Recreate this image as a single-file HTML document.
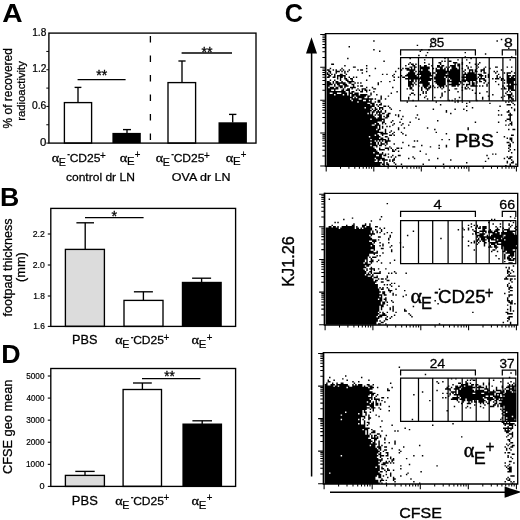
<!DOCTYPE html>
<html lang="en"><head><meta charset="utf-8"><title>Figure</title>
<style>html,body{margin:0;padding:0;background:#fff;}svg{display:block;}text{font-family:"Liberation Sans", Arial, Helvetica, sans-serif;fill:#000;stroke:#000;}</style></head><body>
<svg width="520" height="520" viewBox="0 0 520 520">
<rect x="0" y="0" width="520" height="520" fill="#fff"/>
<g id="panelA">
<text transform="translate(2.29,21.8) scale(1.077,1)" font-size="26.2" stroke-width="0" font-weight="bold">A</text>
<rect x="64.4" y="102.6" width="27.2" height="40.5" fill="#fff" stroke="#000" stroke-width="1.35"/>
<rect x="112.4" y="132.9" width="28.4" height="10.2" fill="#000" stroke="#000" stroke-width="0"/>
<rect x="168" y="82.6" width="27.6" height="60.5" fill="#fff" stroke="#000" stroke-width="1.35"/>
<rect x="218.5" y="122.3" width="28.4" height="20.8" fill="#000" stroke="#000" stroke-width="0"/>
<line x1="78" y1="87.4" x2="78" y2="102.6" stroke="#000" stroke-width="1.35" />
<line x1="74.6" y1="87.4" x2="81.4" y2="87.4" stroke="#000" stroke-width="1.35" />
<line x1="127" y1="129.6" x2="127" y2="133" stroke="#000" stroke-width="1.35" />
<line x1="123" y1="129.6" x2="131" y2="129.6" stroke="#000" stroke-width="1.35" />
<line x1="182" y1="61" x2="182" y2="82.6" stroke="#000" stroke-width="1.35" />
<line x1="178.4" y1="61" x2="185.6" y2="61" stroke="#000" stroke-width="1.35" />
<line x1="232.7" y1="114.4" x2="232.7" y2="122.6" stroke="#000" stroke-width="1.35" />
<line x1="229.0" y1="114.4" x2="236.39999999999998" y2="114.4" stroke="#000" stroke-width="1.35" />
<line x1="77.6" y1="79.6" x2="125.6" y2="79.6" stroke="#000" stroke-width="1.35" />
<line x1="181.6" y1="53" x2="232" y2="53" stroke="#000" stroke-width="1.35" />
<text transform="translate(96.19,80.41) scale(1.010,1)" font-size="14" stroke-width="0.31">**</text>
<text transform="translate(201.39,57.11) scale(1.010,1)" font-size="14" stroke-width="0.31">**</text>
<line x1="150.4" y1="36" x2="150.4" y2="143" stroke="#000" stroke-width="1.3" stroke-dasharray="6.6 12.9"/>
<rect x="48.9" y="33.1" width="207.1" height="110.0" fill="none" stroke="#000" stroke-width="1.35"/>
<line x1="46.3" y1="51.43" x2="48.9" y2="51.43" stroke="#000" stroke-width="1.0" />
<line x1="46.3" y1="69.77" x2="48.9" y2="69.77" stroke="#000" stroke-width="1.0" />
<line x1="46.3" y1="88.1" x2="48.9" y2="88.1" stroke="#000" stroke-width="1.0" />
<line x1="46.3" y1="106.43" x2="48.9" y2="106.43" stroke="#000" stroke-width="1.0" />
<line x1="46.3" y1="124.77" x2="48.9" y2="124.77" stroke="#000" stroke-width="1.0" />
<line x1="46.3" y1="143.1" x2="48.9" y2="143.1" stroke="#000" stroke-width="1.0" />
<text transform="translate(32.24,35.8) scale(0.982,1)" font-size="10.3" stroke-width="0.23">1.8</text>
<text transform="translate(32.24,72.47) scale(0.990,1)" font-size="10.3" stroke-width="0.23">1.2</text>
<text transform="translate(31.99,109.13) scale(1.001,1)" font-size="10.3" stroke-width="0.23">0.6</text>
<text transform="translate(39.94,145.8) scale(1.112,1)" font-size="10.3" stroke-width="0.23">0</text>
<text transform="translate(11.7,128.42) rotate(-90) scale(0.996,1.1)" font-size="12" stroke-width="0.26">% of recovered</text>
<text transform="translate(25,120.74) rotate(-90) scale(1.001,1.04)" font-size="11.3" stroke-width="0.25">radioactivity</text>
<text transform="translate(51.83,162) scale(1.087,1)" font-size="13" stroke-width="0.29" style="font-family:'Liberation Serif',serif">α</text>
<text transform="translate(58.65,165.9) scale(1.054,1)" font-size="10.1" stroke-width="0.22">E</text>
<text transform="translate(67.23,158.48) scale(0.680,1)" font-size="12" stroke-width="0.26">-</text>
<text transform="translate(69.65,162) scale(1.040,1)" font-size="11.6" stroke-width="0.26">CD25</text>
<text transform="translate(100.01,158.62) scale(0.970,1)" font-size="10.2" stroke-width="0.22">+</text>
<text transform="translate(119.63,161.5) scale(1.104,1)" font-size="13" stroke-width="0.29" style="font-family:'Liberation Serif',serif">α</text>
<text transform="translate(126.89,165.4) scale(1.126,1)" font-size="10.1" stroke-width="0.22">E</text>
<text transform="translate(134.82,158.32) scale(0.950,1)" font-size="10.2" stroke-width="0.22">+</text>
<text transform="translate(155.83,162) scale(1.087,1)" font-size="13" stroke-width="0.29" style="font-family:'Liberation Serif',serif">α</text>
<text transform="translate(162.65,165.9) scale(1.054,1)" font-size="10.1" stroke-width="0.22">E</text>
<text transform="translate(171.23,158.48) scale(0.680,1)" font-size="12" stroke-width="0.26">-</text>
<text transform="translate(173.65,162) scale(1.040,1)" font-size="11.6" stroke-width="0.26">CD25</text>
<text transform="translate(204.01,158.62) scale(0.970,1)" font-size="10.2" stroke-width="0.22">+</text>
<text transform="translate(225.63,161.5) scale(1.104,1)" font-size="13" stroke-width="0.29" style="font-family:'Liberation Serif',serif">α</text>
<text transform="translate(232.89,165.4) scale(1.126,1)" font-size="10.1" stroke-width="0.22">E</text>
<text transform="translate(240.82,158.32) scale(0.950,1)" font-size="10.2" stroke-width="0.22">+</text>
<text transform="translate(65.92,181) scale(1.058,1)" font-size="11.4" stroke-width="0.25">control dr LN</text>
<text transform="translate(171.84,181) scale(1.096,1)" font-size="11.4" stroke-width="0.25">OVA dr LN</text>
</g>
<g id="panelB">
<text transform="translate(0.06,206.2) scale(1.020,1)" font-size="26.2" stroke-width="0" font-weight="bold">B</text>
<rect x="65.4" y="249.4" width="39.0" height="77.0" fill="#dcdcdc" stroke="#000" stroke-width="1.35"/>
<rect x="124" y="300.4" width="39" height="26.0" fill="#fff" stroke="#000" stroke-width="1.35"/>
<rect x="181.8" y="281.8" width="40.0" height="44.6" fill="#000" stroke="#000" stroke-width="0"/>
<line x1="85.2" y1="222.8" x2="85.2" y2="249.4" stroke="#000" stroke-width="1.35" />
<line x1="76.4" y1="222.8" x2="94.0" y2="222.8" stroke="#000" stroke-width="1.35" />
<line x1="143.4" y1="291.8" x2="143.4" y2="300.4" stroke="#000" stroke-width="1.35" />
<line x1="133.9" y1="291.8" x2="152.9" y2="291.8" stroke="#000" stroke-width="1.35" />
<line x1="201.6" y1="278.2" x2="201.6" y2="282" stroke="#000" stroke-width="1.35" />
<line x1="192.1" y1="278.2" x2="211.1" y2="278.2" stroke="#000" stroke-width="1.35" />
<line x1="85" y1="217.6" x2="143.6" y2="217.6" stroke="#000" stroke-width="1.35" />
<text transform="translate(111.58,220.91) scale(1.032,1)" font-size="14" stroke-width="0.31">*</text>
<rect x="50.8" y="208.4" width="184.8" height="117.99999999999997" fill="none" stroke="#000" stroke-width="1.35"/>
<line x1="47.8" y1="234" x2="50.8" y2="234" stroke="#000" stroke-width="1.1" />
<text transform="translate(32.76,237) scale(0.995,1)" font-size="8.8" stroke-width="0.19">2.2</text>
<line x1="47.8" y1="265" x2="50.8" y2="265" stroke="#000" stroke-width="1.1" />
<text transform="translate(32.77,268) scale(0.984,1)" font-size="8.8" stroke-width="0.19">2.0</text>
<line x1="47.8" y1="296" x2="50.8" y2="296" stroke="#000" stroke-width="1.1" />
<text transform="translate(33.17,299) scale(0.954,1)" font-size="8.8" stroke-width="0.19">1.8</text>
<line x1="47.8" y1="326.4" x2="50.8" y2="326.4" stroke="#000" stroke-width="1.1" />
<text transform="translate(33.17,329.4) scale(0.954,1)" font-size="8.8" stroke-width="0.19">1.6</text>
<text transform="translate(11.6,316.39) rotate(-90) scale(1.007,1.02)" font-size="12.5" stroke-width="0.27">footpad thickness</text>
<text transform="translate(25.3,281.97) rotate(-90) scale(1.021,1.02)" font-size="12.5" stroke-width="0.27">(mm)</text>
<text transform="translate(71.98,344.4) scale(1.040,1)" font-size="12.2" stroke-width="0.27">PBS</text>
<text transform="translate(115.33,344.2) scale(1.087,1)" font-size="13" stroke-width="0.29" style="font-family:'Liberation Serif',serif">α</text>
<text transform="translate(122.15,348.1) scale(1.054,1)" font-size="10.1" stroke-width="0.22">E</text>
<text transform="translate(130.73,340.68) scale(0.680,1)" font-size="12" stroke-width="0.26">-</text>
<text transform="translate(133.15,344.2) scale(1.040,1)" font-size="11.6" stroke-width="0.26">CD25</text>
<text transform="translate(163.51,340.82) scale(0.970,1)" font-size="10.2" stroke-width="0.22">+</text>
<text transform="translate(191.53,344.2) scale(1.104,1)" font-size="13" stroke-width="0.29" style="font-family:'Liberation Serif',serif">α</text>
<text transform="translate(198.79,348.1) scale(1.126,1)" font-size="10.1" stroke-width="0.22">E</text>
<text transform="translate(206.72,341.02) scale(0.950,1)" font-size="10.2" stroke-width="0.22">+</text>
</g>
<g id="panelD">
<text transform="translate(1.36,363.3) scale(1.028,1)" font-size="26.1" stroke-width="0" font-weight="bold">D</text>
<rect x="65.4" y="475.4" width="39.0" height="11.0" fill="#dcdcdc" stroke="#000" stroke-width="1.35"/>
<rect x="123.1" y="389.5" width="38.4" height="96.9" fill="#fff" stroke="#000" stroke-width="1.35"/>
<rect x="182.4" y="423.5" width="39.7" height="62.9" fill="#000" stroke="#000" stroke-width="0"/>
<line x1="85" y1="471.4" x2="85" y2="475.4" stroke="#000" stroke-width="1.35" />
<line x1="75.3" y1="471.4" x2="94.7" y2="471.4" stroke="#000" stroke-width="1.35" />
<line x1="142.4" y1="383" x2="142.4" y2="389.6" stroke="#000" stroke-width="1.35" />
<line x1="133.0" y1="383" x2="151.8" y2="383" stroke="#000" stroke-width="1.35" />
<line x1="202.2" y1="420.8" x2="202.2" y2="424" stroke="#000" stroke-width="1.35" />
<line x1="192.39999999999998" y1="420.8" x2="212.0" y2="420.8" stroke="#000" stroke-width="1.35" />
<line x1="142" y1="378.6" x2="200.4" y2="378.6" stroke="#000" stroke-width="1.35" />
<text transform="translate(164.2,380.61) scale(0.971,1)" font-size="14" stroke-width="0.31">**</text>
<rect x="50.8" y="368.5" width="184.8" height="117.9" fill="none" stroke="#000" stroke-width="1.35"/>
<line x1="47.8" y1="486.4" x2="50.8" y2="486.4" stroke="#000" stroke-width="1.1" />
<text transform="translate(39.43,489.4) scale(1.042,1)" font-size="8.8" stroke-width="0.19">0</text>
<line x1="47.8" y1="464.32" x2="50.8" y2="464.32" stroke="#000" stroke-width="1.1" />
<text transform="translate(25.98,467.32) scale(0.946,1)" font-size="8.8" stroke-width="0.19">1000</text>
<line x1="47.8" y1="442.24" x2="50.8" y2="442.24" stroke="#000" stroke-width="1.1" />
<text transform="translate(26.19,445.24) scale(0.935,1)" font-size="8.8" stroke-width="0.19">2000</text>
<line x1="47.8" y1="420.16" x2="50.8" y2="420.16" stroke="#000" stroke-width="1.1" />
<text transform="translate(26.27,423.16) scale(0.930,1)" font-size="8.8" stroke-width="0.19">3000</text>
<line x1="47.8" y1="398.08" x2="50.8" y2="398.08" stroke="#000" stroke-width="1.1" />
<text transform="translate(26.44,401.08) scale(0.922,1)" font-size="8.8" stroke-width="0.19">4000</text>
<line x1="47.8" y1="376.0" x2="50.8" y2="376.0" stroke="#000" stroke-width="1.1" />
<text transform="translate(26.27,379) scale(0.930,1)" font-size="8.8" stroke-width="0.19">5000</text>
<text transform="translate(12,474.04) rotate(-90) scale(1.031,1.05)" font-size="12.4" stroke-width="0.27">CFSE geo mean</text>
<text transform="translate(71.86,504.8) scale(1.062,1)" font-size="12.2" stroke-width="0.27">PBS</text>
<text transform="translate(115.33,504.6) scale(1.087,1)" font-size="13" stroke-width="0.29" style="font-family:'Liberation Serif',serif">α</text>
<text transform="translate(122.15,508.5) scale(1.054,1)" font-size="10.1" stroke-width="0.22">E</text>
<text transform="translate(130.73,501.08) scale(0.680,1)" font-size="12" stroke-width="0.26">-</text>
<text transform="translate(133.15,504.6) scale(1.040,1)" font-size="11.6" stroke-width="0.26">CD25</text>
<text transform="translate(163.51,501.22) scale(0.970,1)" font-size="10.2" stroke-width="0.22">+</text>
<text transform="translate(191.53,504.6) scale(1.104,1)" font-size="13" stroke-width="0.29" style="font-family:'Liberation Serif',serif">α</text>
<text transform="translate(198.79,508.5) scale(1.126,1)" font-size="10.1" stroke-width="0.22">E</text>
<text transform="translate(206.72,501.42) scale(0.950,1)" font-size="10.2" stroke-width="0.22">+</text>
</g>
<g id="panelC">
<text transform="translate(284.79,21.7) scale(0.958,1)" font-size="26.3" stroke-width="0" font-weight="bold">C</text>
<path d="M432.65 39.58h1.45M500.8 39.58h1.45M373.2 41.03h1.45M496.45 41.03h1.45M416.7 45.38h1.45M348.55 46.83h1.45M429.75 46.83h1.45M508.05 48.28h1.45M373.2 49.73h1.45M421.05 49.73h1.45M428.3 49.73h1.45M379 51.18h1.45M419.6 51.18h1.45M426.85 52.63h1.45M464.55 52.63h1.45M484.85 54.08h1.45M418.15 55.53h1.45M425.4 55.53h1.45M464.55 56.98h1.45M510.95 56.98h1.45M347.1 58.43h1.45M409.45 58.43h1.45M444.25 58.43h1.45M470.35 58.43h1.45M423.95 59.88h1.45M457.3 59.88h1.45M466 59.88h1.45M509.5 59.88h1.45M383.35 61.33h1.45M441.35 61.33h1.45M444.25 61.33h1.45M448.6 61.33h2.9M409.45 62.78h1.45M423.95 62.78h1.45M438.45 62.78h2.9M452.95 62.78h4.35M461.65 62.78h1.45M468.9 62.78h1.45M479.05 62.78h1.45M331.15 64.23h2.9M408 64.23h1.45M410.9 64.23h2.9M415.25 64.23h1.45M428.3 64.23h1.45M439.9 64.23h1.45M454.4 64.23h1.45M457.3 64.23h2.9M461.65 64.23h1.45M474.7 64.23h1.45M477.6 64.23h1.45M344.2 65.68h1.45M365.95 65.68h1.45M405.1 65.68h1.45M412.35 65.68h2.9M419.6 65.68h1.45M423.95 65.68h2.9M431.2 65.68h1.45M437 65.68h2.9M441.35 65.68h2.9M450.05 65.68h5.8M457.3 65.68h2.9M466 65.68h1.45M476.15 65.68h1.45M352.9 67.13h2.9M409.45 67.13h2.9M413.8 67.13h2.9M419.6 67.13h10.15M437 67.13h5.8M445.7 67.13h1.45M448.6 67.13h1.45M451.5 67.13h4.35M458.75 67.13h1.45M467.45 67.13h1.45M470.35 67.13h1.45M477.6 67.13h1.45M484.85 67.13h1.45M495 67.13h2.9M506.6 67.13h1.45M510.95 67.13h1.45M329.7 68.58h1.45M341.3 68.58h1.45M365.95 68.58h1.45M374.65 68.58h1.45M397.85 68.58h1.45M402.2 68.58h1.45M405.1 68.58h4.35M410.9 68.58h1.45M413.8 68.58h1.45M419.6 68.58h10.15M432.65 68.58h1.45M435.55 68.58h1.45M439.9 68.58h2.9M444.25 68.58h1.45M447.15 68.58h1.45M451.5 68.58h5.8M458.75 68.58h1.45M461.65 68.58h1.45M467.45 68.58h1.45M476.15 68.58h1.45M483.4 68.58h1.45M489.2 68.58h1.45M326.8 70.03h2.9M332.6 70.03h1.45M335.5 70.03h1.45M339.85 70.03h1.45M342.75 70.03h1.45M348.55 70.03h1.45M357.25 70.03h1.45M360.15 70.03h2.9M400.75 70.03h1.45M406.55 70.03h8.7M419.6 70.03h1.45M422.5 70.03h5.8M435.55 70.03h10.15M447.15 70.03h1.45M450.05 70.03h10.15M464.55 70.03h1.45M468.9 70.03h4.35M474.7 70.03h1.45M480.5 70.03h4.35M500.8 70.03h1.45M328.25 71.48h2.9M335.5 71.48h4.35M341.3 71.48h1.45M344.2 71.48h1.45M347.1 71.48h1.45M365.95 71.48h1.45M394.95 71.48h1.45M409.45 71.48h4.35M415.25 71.48h1.45M418.15 71.48h11.6M435.55 71.48h24.65M463.1 71.48h1.45M468.9 71.48h1.45M471.8 71.48h1.45M474.7 71.48h2.9M480.5 71.48h1.45M483.4 71.48h1.45M493.55 71.48h1.45M496.45 71.48h1.45M510.95 71.48h1.45M326.8 72.93h1.45M329.7 72.93h1.45M335.5 72.93h1.45M344.2 72.93h1.45M361.6 72.93h1.45M408 72.93h7.25M419.6 72.93h11.6M432.65 72.93h2.9M437 72.93h10.15M448.6 72.93h11.6M464.55 72.93h1.45M467.45 72.93h7.25M483.4 72.93h2.9M495 72.93h1.45M503.7 72.93h1.45M506.6 72.93h4.35M513.85 72.93h1.45M326.8 74.38h2.9M331.15 74.38h1.45M334.05 74.38h1.45M339.85 74.38h2.9M345.65 74.38h1.45M381.9 74.38h1.45M386.25 74.38h1.45M393.5 74.38h1.45M406.55 74.38h8.7M416.7 74.38h14.5M435.55 74.38h10.15M448.6 74.38h11.6M463.1 74.38h13.05M477.6 74.38h4.35M487.75 74.38h1.45M497.9 74.38h1.45M506.6 74.38h1.45M328.25 75.83h2.9M334.05 75.83h1.45M336.95 75.83h8.7M368.85 75.83h1.45M392.05 75.83h1.45M400.75 75.83h1.45M405.1 75.83h11.6M421.05 75.83h11.6M435.55 75.83h24.65M463.1 75.83h1.45M466 75.83h10.15M479.05 75.83h4.35M484.85 75.83h1.45M487.75 75.83h1.45M496.45 75.83h1.45M506.6 75.83h4.35M512.4 75.83h2.9M326.8 77.28h2.9M332.6 77.28h2.9M336.95 77.28h1.45M339.85 77.28h2.9M344.2 77.28h1.45M348.55 77.28h1.45M352.9 77.28h1.45M355.8 77.28h1.45M393.5 77.28h1.45M397.85 77.28h1.45M402.2 77.28h2.9M408 77.28h10.15M419.6 77.28h10.15M434.1 77.28h10.15M445.7 77.28h1.45M448.6 77.28h11.6M461.65 77.28h14.5M477.6 77.28h1.45M480.5 77.28h1.45M484.85 77.28h1.45M487.75 77.28h1.45M496.45 77.28h1.45M499.35 77.28h1.45M506.6 77.28h2.9M510.95 77.28h2.9M336.95 78.73h1.45M339.85 78.73h1.45M344.2 78.73h2.9M350 78.73h2.9M405.1 78.73h27.55M434.1 78.73h11.6M450.05 78.73h10.15M463.1 78.73h1.45M466 78.73h11.6M479.05 78.73h5.8M492.1 78.73h1.45M495 78.73h4.35M500.8 78.73h2.9M506.6 78.73h8.7M329.7 80.18h1.45M334.05 80.18h1.45M339.85 80.18h1.45M345.65 80.18h2.9M351.45 80.18h1.45M365.95 80.18h1.45M393.5 80.18h1.45M408 80.18h1.45M410.9 80.18h2.9M415.25 80.18h1.45M418.15 80.18h1.45M421.05 80.18h10.15M435.55 80.18h10.15M447.15 80.18h2.9M451.5 80.18h8.7M461.65 80.18h14.5M479.05 80.18h1.45M483.4 80.18h2.9M500.8 80.18h1.45M503.7 80.18h1.45M506.6 80.18h8.7M326.8 81.63h2.9M332.6 81.63h1.45M335.5 81.63h2.9M341.3 81.63h1.45M347.1 81.63h7.25M380.45 81.63h1.45M389.15 81.63h1.45M408 81.63h5.8M415.25 81.63h1.45M419.6 81.63h8.7M434.1 81.63h11.6M447.15 81.63h14.5M463.1 81.63h2.9M467.45 81.63h2.9M471.8 81.63h1.45M476.15 81.63h1.45M479.05 81.63h2.9M484.85 81.63h1.45M495 81.63h1.45M506.6 81.63h7.25M326.8 83.08h4.35M332.6 83.08h1.45M335.5 83.08h10.15M348.55 83.08h2.9M354.35 83.08h1.45M357.25 83.08h1.45M360.15 83.08h1.45M377.55 83.08h1.45M408 83.08h4.35M413.8 83.08h1.45M418.15 83.08h11.6M435.55 83.08h10.15M451.5 83.08h7.25M460.2 83.08h1.45M468.9 83.08h1.45M471.8 83.08h2.9M476.15 83.08h1.45M483.4 83.08h1.45M487.75 83.08h1.45M503.7 83.08h1.45M506.6 83.08h7.25M326.8 84.53h5.8M334.05 84.53h1.45M336.95 84.53h2.9M342.75 84.53h4.35M351.45 84.53h2.9M377.55 84.53h1.45M408 84.53h5.8M415.25 84.53h1.45M422.5 84.53h7.25M437 84.53h8.7M448.6 84.53h11.6M463.1 84.53h1.45M466 84.53h4.35M471.8 84.53h2.9M486.3 84.53h1.45M497.9 84.53h1.45M508.05 84.53h1.45M510.95 84.53h5.8M326.8 85.98h2.9M334.05 85.98h1.45M338.4 85.98h4.35M344.2 85.98h4.35M352.9 85.98h1.45M357.25 85.98h1.45M360.15 85.98h2.9M408 85.98h2.9M412.35 85.98h1.45M418.15 85.98h1.45M422.5 85.98h5.8M429.75 85.98h1.45M432.65 85.98h1.45M438.45 85.98h5.8M445.7 85.98h1.45M451.5 85.98h4.35M457.3 85.98h1.45M466 85.98h1.45M470.35 85.98h7.25M479.05 85.98h1.45M481.95 85.98h1.45M486.3 85.98h1.45M502.25 85.98h1.45M506.6 85.98h7.25M326.8 87.43h1.45M329.7 87.43h4.35M335.5 87.43h2.9M339.85 87.43h2.9M344.2 87.43h1.45M350 87.43h5.8M365.95 87.43h1.45M371.75 87.43h1.45M392.05 87.43h1.45M409.45 87.43h2.9M421.05 87.43h1.45M423.95 87.43h2.9M428.3 87.43h2.9M434.1 87.43h1.45M437 87.43h1.45M439.9 87.43h1.45M442.8 87.43h1.45M461.65 87.43h1.45M464.55 87.43h1.45M467.45 87.43h1.45M503.7 87.43h1.45M508.05 87.43h5.8M326.8 88.88h11.6M342.75 88.88h1.45M347.1 88.88h2.9M351.45 88.88h1.45M357.25 88.88h1.45M361.6 88.88h4.35M373.2 88.88h2.9M406.55 88.88h1.45M409.45 88.88h2.9M421.05 88.88h1.45M425.4 88.88h4.35M441.35 88.88h1.45M454.4 88.88h2.9M464.55 88.88h2.9M468.9 88.88h1.45M500.8 88.88h1.45M503.7 88.88h2.9M508.05 88.88h5.8M326.8 90.33h4.35M334.05 90.33h1.45M341.3 90.33h2.9M345.65 90.33h4.35M355.8 90.33h1.45M358.7 90.33h1.45M361.6 90.33h1.45M364.5 90.33h2.9M368.85 90.33h1.45M412.35 90.33h1.45M421.05 90.33h1.45M426.85 90.33h1.45M448.6 90.33h1.45M461.65 90.33h1.45M471.8 90.33h1.45M508.05 90.33h1.45M510.95 90.33h4.35M326.8 91.78h18.85M348.55 91.78h1.45M351.45 91.78h2.9M360.15 91.78h2.9M365.95 91.78h1.45M373.2 91.78h1.45M396.4 91.78h1.45M422.5 91.78h1.45M425.4 91.78h1.45M444.25 91.78h1.45M457.3 91.78h1.45M486.3 91.78h1.45M506.6 91.78h1.45M509.5 91.78h1.45M326.8 93.23h2.9M332.6 93.23h4.35M341.3 93.23h5.8M348.55 93.23h4.35M354.35 93.23h4.35M370.3 93.23h1.45M390.6 93.23h1.45M410.9 93.23h2.9M422.5 93.23h1.45M425.4 93.23h1.45M441.35 93.23h1.45M474.7 93.23h1.45M479.05 93.23h1.45M505.15 93.23h1.45M510.95 93.23h1.45M326.8 94.68h7.25M335.5 94.68h7.25M344.2 94.68h2.9M348.55 94.68h1.45M351.45 94.68h7.25M360.15 94.68h7.25M370.3 94.68h1.45M376.1 94.68h1.45M409.45 94.68h1.45M413.8 94.68h1.45M419.6 94.68h1.45M441.35 94.68h1.45M492.1 94.68h1.45M506.6 94.68h5.8M326.8 96.13h23.2M351.45 96.13h2.9M355.8 96.13h10.15M367.4 96.13h2.9M380.45 96.13h1.45M387.7 96.13h1.45M425.4 96.13h1.45M441.35 96.13h1.45M487.75 96.13h1.45M503.7 96.13h1.45M508.05 96.13h2.9M512.4 96.13h1.45M326.8 97.58h26.1M354.35 97.58h1.45M357.25 97.58h7.25M367.4 97.58h1.45M380.45 97.58h1.45M408 97.58h1.45M423.95 97.58h1.45M434.1 97.58h1.45M439.9 97.58h1.45M458.75 97.58h1.45M481.95 97.58h1.45M500.8 97.58h1.45M508.05 97.58h4.35M326.8 99.03h23.2M351.45 99.03h7.25M361.6 99.03h11.6M374.65 99.03h1.45M380.45 99.03h1.45M384.8 99.03h1.45M408 99.03h1.45M426.85 99.03h1.45M454.4 99.03h1.45M481.95 99.03h1.45M508.05 99.03h1.45M510.95 99.03h2.9M326.8 100.48h24.65M352.9 100.48h10.15M365.95 100.48h2.9M370.3 100.48h1.45M377.55 100.48h2.9M412.35 100.48h1.45M448.6 100.48h1.45M451.5 100.48h1.45M457.3 100.48h1.45M476.15 100.48h1.45M509.5 100.48h1.45M512.4 100.48h1.45M326.8 101.93h30.45M358.7 101.93h13.05M374.65 101.93h1.45M377.55 101.93h2.9M406.55 101.93h1.45M435.55 101.93h1.45M454.4 101.93h1.45M457.3 101.93h1.45M461.65 101.93h1.45M468.9 101.93h1.45M505.15 101.93h1.45M508.05 101.93h1.45M510.95 101.93h1.45M326.8 103.38h40.6M370.3 103.38h4.35M380.45 103.38h1.45M466 103.38h1.45M489.2 103.38h1.45M512.4 103.38h1.45M326.8 104.83h43.5M371.75 104.83h2.9M376.1 104.83h1.45M379 104.83h2.9M439.9 104.83h1.45M506.6 104.83h4.35M513.85 104.83h1.45M326.8 106.28h47.85M377.55 106.28h1.45M383.35 106.28h2.9M387.7 106.28h1.45M415.25 106.28h1.45M466 106.28h1.45M499.35 106.28h1.45M326.8 107.73h37.7M365.95 107.73h5.8M374.65 107.73h1.45M379 107.73h4.35M389.15 107.73h1.45M471.8 107.73h1.45M510.95 107.73h1.45M326.8 109.18h43.5M371.75 109.18h1.45M374.65 109.18h2.9M379 109.18h1.45M381.9 109.18h1.45M390.6 109.18h1.45M432.65 109.18h1.45M454.4 109.18h1.45M463.1 109.18h1.45M513.85 109.18h1.45M326.8 110.63h44.95M373.2 110.63h2.9M377.55 110.63h1.45M380.45 110.63h1.45M384.8 110.63h1.45M399.3 110.63h1.45M445.7 110.63h1.45M466 110.63h1.45M497.9 110.63h1.45M508.05 110.63h1.45M513.85 110.63h1.45M326.8 112.08h43.5M371.75 112.08h2.9M376.1 112.08h5.8M384.8 112.08h1.45M445.7 112.08h1.45M506.6 112.08h2.9M326.8 113.53h40.6M368.85 113.53h1.45M371.75 113.53h1.45M376.1 113.53h1.45M379 113.53h1.45M381.9 113.53h2.9M387.7 113.53h2.9M450.05 113.53h1.45M509.5 113.53h1.45M326.8 114.98h46.4M374.65 114.98h1.45M377.55 114.98h4.35M386.25 114.98h2.9M394.95 114.98h1.45M397.85 114.98h1.45M416.7 114.98h1.45M497.9 114.98h1.45M500.8 114.98h1.45M508.05 114.98h4.35M326.8 116.43h47.85M379 116.43h2.9M383.35 116.43h1.45M386.25 116.43h2.9M397.85 116.43h1.45M402.2 116.43h1.45M509.5 116.43h1.45M326.8 117.88h49.3M377.55 117.88h4.35M384.8 117.88h2.9M415.25 117.88h1.45M509.5 117.88h1.45M326.8 119.33h43.5M371.75 119.33h13.05M400.75 119.33h1.45M418.15 119.33h1.45M506.6 119.33h4.35M326.8 120.78h55.1M383.35 120.78h1.45M392.05 120.78h1.45M437 120.78h1.45M505.15 120.78h1.45M509.5 120.78h1.45M326.8 122.23h50.75M381.9 122.23h2.9M390.6 122.23h1.45M399.3 122.23h1.45M409.45 122.23h1.45M474.7 122.23h1.45M497.9 122.23h1.45M510.95 122.23h1.45M326.8 123.68h47.85M376.1 123.68h2.9M381.9 123.68h1.45M384.8 123.68h1.45M393.5 123.68h1.45M402.2 123.68h1.45M509.5 123.68h2.9M326.8 125.13h44.95M374.65 125.13h5.8M392.05 125.13h1.45M400.75 125.13h1.45M408 125.13h1.45M505.15 125.13h1.45M508.05 125.13h1.45M510.95 125.13h1.45M326.8 126.58h50.75M379 126.58h1.45M381.9 126.58h1.45M386.25 126.58h1.45M389.15 126.58h1.45M326.8 128.03h50.75M379 128.03h1.45M381.9 128.03h1.45M397.85 128.03h1.45M403.65 128.03h1.45M426.85 128.03h1.45M467.45 128.03h1.45M326.8 129.48h49.3M377.55 129.48h2.9M384.8 129.48h1.45M397.85 129.48h1.45M434.1 129.48h1.45M467.45 129.48h1.45M508.05 129.48h1.45M512.4 129.48h2.9M326.8 130.93h52.2M384.8 130.93h1.45M390.6 130.93h1.45M326.8 132.38h56.55M384.8 132.38h1.45M389.15 132.38h1.45M393.5 132.38h1.45M400.75 132.38h1.45M435.55 132.38h1.45M496.45 132.38h1.45M326.8 133.83h50.75M380.45 133.83h7.25M392.05 133.83h1.45M402.2 133.83h1.45M445.7 133.83h1.45M326.8 135.28h47.85M376.1 135.28h2.9M381.9 135.28h1.45M389.15 135.28h2.9M393.5 135.28h1.45M405.1 135.28h1.45M486.3 135.28h1.45M510.95 135.28h2.9M326.8 136.73h42.05M370.3 136.73h10.15M384.8 136.73h2.9M466 136.73h1.45M503.7 136.73h1.45M326.8 138.18h52.2M380.45 138.18h2.9M387.7 138.18h1.45M474.7 138.18h1.45M481.95 138.18h1.45M506.6 138.18h1.45M509.5 138.18h2.9M326.8 139.63h43.5M371.75 139.63h14.5M387.7 139.63h1.45M441.35 139.63h1.45M448.6 139.63h1.45M509.5 139.63h2.9M326.8 141.08h47.85M376.1 141.08h1.45M379 141.08h1.45M381.9 141.08h1.45M384.8 141.08h5.8M413.8 141.08h1.45M416.7 141.08h1.45M466 141.08h1.45M510.95 141.08h1.45M326.8 142.53h43.5M371.75 142.53h4.35M377.55 142.53h1.45M380.45 142.53h1.45M384.8 142.53h2.9M402.2 142.53h1.45M490.65 142.53h1.45M506.6 142.53h2.9M512.4 142.53h1.45M326.8 143.98h49.3M377.55 143.98h1.45M380.45 143.98h4.35M386.25 143.98h1.45M393.5 143.98h1.45M509.5 143.98h1.45M326.8 145.43h43.5M371.75 145.43h5.8M379 145.43h2.9M384.8 145.43h1.45M408 145.43h1.45M421.05 145.43h1.45M438.45 145.43h1.45M445.7 145.43h1.45M508.05 145.43h2.9M326.8 146.88h46.4M376.1 146.88h1.45M389.15 146.88h1.45M412.35 146.88h2.9M429.75 146.88h1.45M445.7 146.88h1.45M509.5 146.88h1.45M326.8 148.33h47.85M379 148.33h1.45M384.8 148.33h4.35M390.6 148.33h1.45M396.4 148.33h2.9M400.75 148.33h1.45M438.45 148.33h1.45M508.05 148.33h1.45M326.8 149.78h49.3M379 149.78h5.8M387.7 149.78h1.45M392.05 149.78h1.45M394.95 149.78h1.45M509.5 149.78h1.45M513.85 149.78h1.45M326.8 151.23h50.75M392.05 151.23h2.9M397.85 151.23h1.45M419.6 151.23h1.45M508.05 151.23h1.45M326.8 152.68h46.4M374.65 152.68h4.35M381.9 152.68h1.45M510.95 152.68h1.45M326.8 154.13h56.55M384.8 154.13h1.45M387.7 154.13h1.45M425.4 154.13h1.45M492.1 154.13h1.45M495 154.13h1.45M326.8 155.58h49.3M379 155.58h2.9M383.35 155.58h2.9M392.05 155.58h1.45M397.85 155.58h2.9M486.3 155.58h1.45M326.8 157.03h55.1M387.7 157.03h1.45M390.6 157.03h1.45M394.95 157.03h1.45M412.35 157.03h1.45M506.6 157.03h1.45M509.5 157.03h2.9M326.8 158.48h47.85M376.1 158.48h8.7M393.5 158.48h1.45M408 158.48h1.45M413.8 158.48h1.45M437 158.48h1.45M487.75 158.48h1.45M503.7 158.48h1.45M508.05 158.48h2.9M326.8 159.93h49.3M377.55 159.93h2.9M381.9 159.93h5.8M389.15 159.93h1.45M392.05 159.93h2.9M428.3 159.93h1.45M450.05 159.93h1.45M510.95 159.93h1.45M326.8 161.38h47.85M377.55 161.38h1.45M383.35 161.38h1.45M389.15 161.38h1.45M392.05 161.38h1.45M484.85 161.38h1.45M506.6 161.38h1.45M512.4 161.38h1.45M326.8 162.83h55.1M383.35 162.83h1.45M386.25 162.83h1.45M393.5 162.83h1.45M466 162.83h1.45M506.6 162.83h1.45M510.95 162.83h2.9M326.8 164.28h53.65M381.9 164.28h2.9M386.25 164.28h2.9M394.95 164.28h1.45M400.75 164.28h1.45M422.5 164.28h1.45M442.8 164.28h1.45M509.5 164.28h1.45M515.3 164.28h1.45M326.8 165.73h53.65M383.35 165.73h1.45M387.7 165.73h1.45M505.15 165.73h1.45M509.5 165.73h1.45" stroke="#000" stroke-width="1.45" fill="none"/>
<path d="M452.95 67.13h1.45M423.95 68.58h2.9M452.95 68.58h1.45M423.95 70.03h2.9M452.95 70.03h2.9M410.9 71.48h1.45M423.95 71.48h2.9M438.45 71.48h5.8M451.5 71.48h7.25M410.9 72.93h1.45M421.05 72.93h7.25M438.45 72.93h5.8M450.05 72.93h8.7M409.45 74.38h4.35M422.5 74.38h7.25M438.45 74.38h5.8M450.05 74.38h8.7M468.9 74.38h4.35M409.45 75.83h4.35M422.5 75.83h5.8M437 75.83h5.8M450.05 75.83h8.7M467.45 75.83h7.25M409.45 77.28h5.8M422.5 77.28h5.8M437 77.28h5.8M451.5 77.28h7.25M467.45 77.28h7.25M422.5 78.73h5.8M437 78.73h5.8M452.95 78.73h5.8M467.45 78.73h7.25M422.5 80.18h4.35M437 80.18h7.25M452.95 80.18h5.8M508.05 80.18h4.35M422.5 81.63h4.35M437 81.63h7.25M452.95 81.63h4.35M508.05 81.63h4.35M409.45 83.08h1.45M423.95 83.08h2.9M438.45 83.08h5.8M452.95 83.08h4.35M423.95 84.53h2.9M439.9 84.53h2.9M452.95 84.53h1.45M509.5 87.43h2.9M328.25 90.33h1.45M328.25 96.13h4.35M336.95 96.13h4.35M361.6 96.13h1.45M328.25 97.58h20.3M328.25 99.03h20.3M328.25 100.48h20.3M354.35 100.48h1.45M328.25 101.93h21.75M354.35 101.93h1.45M360.15 101.93h1.45M328.25 103.38h27.55M360.15 103.38h5.8M328.25 104.83h37.7M328.25 106.28h34.8M367.4 106.28h1.45M328.25 107.73h34.8M367.4 107.73h1.45M328.25 109.18h34.8M367.4 109.18h1.45M328.25 110.63h40.6M328.25 112.08h37.7M328.25 113.53h37.7M328.25 114.98h37.7M328.25 116.43h43.5M328.25 117.88h40.6M328.25 119.33h40.6M373.2 119.33h1.45M379 119.33h1.45M328.25 120.78h40.6M373.2 120.78h2.9M328.25 122.23h44.95M328.25 123.68h42.05M328.25 125.13h42.05M328.25 126.58h42.05M328.25 128.03h46.4M328.25 129.48h46.4M328.25 130.93h46.4M328.25 132.38h47.85M328.25 133.83h44.95M328.25 135.28h39.15M371.75 135.28h1.45M328.25 136.73h39.15M371.75 136.73h1.45M328.25 138.18h39.15M373.2 138.18h4.35M328.25 139.63h40.6M328.25 141.08h40.6M328.25 142.53h40.6M328.25 143.98h40.6M373.2 143.98h1.45M328.25 145.43h40.6M328.25 146.88h40.6M328.25 148.33h43.5M328.25 149.78h44.95M328.25 151.23h43.5M328.25 152.68h43.5M328.25 154.13h43.5M328.25 155.58h46.4M328.25 157.03h44.95M328.25 158.48h44.95M328.25 159.93h44.95M328.25 161.38h44.95M328.25 162.83h44.95M328.25 164.28h50.75" stroke="#000" stroke-width="2.05" fill="none"/>
<path d="M400.6 57.5H515.8V100.8H400.6ZM418.5 57.5V100.8M432.7 57.5V100.8M448.1 57.5V100.8M462.2 57.5V100.8M476.2 57.5V100.8M489.2 57.5V100.8M502.9 57.5V100.8M400.6 55.5V49.9H475.4V55.5M502.3 55.5V49.9H515.8V55.5" stroke="#000" stroke-width="1.25" fill="none"/>
<path d="M325.6 33.6H517.7V166.2H325.6" fill="none" stroke="#000" stroke-width="1.35"/>
<path d="M325.6 33.0V166.8" fill="none" stroke="#000" stroke-width="1.7"/>
<path d="M320.2 165.9H325.6M322.4 156.0H325.6M322.4 150.2H325.6M322.4 146.1H325.6M322.4 142.9H325.6M322.4 140.3H325.6M322.4 138.1H325.6M322.4 136.2H325.6M322.4 134.6H325.6M320.2 133.0H325.6M322.4 123.2H325.6M322.4 117.4H325.6M322.4 113.3H325.6M322.4 110.1H325.6M322.4 107.5H325.6M322.4 105.3H325.6M322.4 103.4H325.6M322.4 101.7H325.6M320.2 100.2H325.6M322.4 90.3H325.6M322.4 84.5H325.6M322.4 80.4H325.6M322.4 77.2H325.6M322.4 74.6H325.6M322.4 72.4H325.6M322.4 70.5H325.6M322.4 68.9H325.6M320.2 67.3H325.6M322.4 57.5H325.6M322.4 51.7H325.6M322.4 47.6H325.6M322.4 44.4H325.6M322.4 41.8H325.6M322.4 39.6H325.6M322.4 37.7H325.6M322.4 36.0H325.6M320.2 34.5H325.6M326.2 166.2V171.4M340.5 166.2V168.8M348.9 166.2V168.8M354.8 166.2V168.8M359.4 166.2V168.8M363.2 166.2V168.8M366.4 166.2V168.8M369.1 166.2V168.8M371.6 166.2V168.8M373.8 166.2V171.4M388.1 166.2V168.8M396.4 166.2V168.8M402.4 166.2V168.8M407.0 166.2V168.8M410.8 166.2V168.8M413.9 166.2V168.8M416.7 166.2V168.8M419.1 166.2V168.8M421.3 166.2V171.4M435.6 166.2V168.8M444.0 166.2V168.8M449.9 166.2V168.8M454.5 166.2V168.8M458.3 166.2V168.8M461.5 166.2V168.8M464.2 166.2V168.8M466.7 166.2V168.8M468.9 166.2V171.4M483.2 166.2V168.8M491.5 166.2V168.8M497.5 166.2V168.8M502.1 166.2V168.8M505.9 166.2V168.8M509.0 166.2V168.8M511.8 166.2V168.8M514.2 166.2V168.8M516.4 166.2V171.4" stroke="#000" stroke-width="1.05" fill="none"/>
<path d="M328.6 199.27h1.45M386.6 203.62h1.45M380.8 216.67h1.45M509.85 216.67h1.45M351.8 218.12h1.45M514.2 218.12h1.45M343.1 219.57h1.45M379.35 219.57h1.45M491 219.57h1.45M493.9 219.57h1.45M370.65 221.02h1.45M509.85 221.02h1.45M334.4 222.47h1.45M337.3 222.47h1.45M488.1 222.47h1.45M512.75 222.47h1.45M353.25 223.92h1.45M364.85 223.92h1.45M369.2 223.92h1.45M470.7 223.92h1.45M492.45 223.92h1.45M499.7 223.92h1.45M508.4 223.92h1.45M331.5 225.37h1.45M346 225.37h1.45M351.8 225.37h2.9M361.95 225.37h4.35M369.2 225.37h1.45M467.8 225.37h1.45M473.6 225.37h1.45M476.5 225.37h1.45M508.4 225.37h1.45M511.3 225.37h1.45M328.6 226.82h2.9M332.95 226.82h2.9M337.3 226.82h1.45M341.65 226.82h13.05M356.15 226.82h1.45M361.95 226.82h2.9M366.3 226.82h4.35M375 226.82h2.9M470.7 226.82h1.45M476.5 226.82h1.45M479.4 226.82h1.45M482.3 226.82h4.35M495.35 226.82h1.45M499.7 226.82h1.45M509.85 226.82h1.45M515.65 226.82h1.45M325.7 228.27h13.05M340.2 228.27h14.5M356.15 228.27h2.9M360.5 228.27h1.45M363.4 228.27h8.7M379.35 228.27h1.45M383.7 228.27h1.45M462 228.27h1.45M467.8 228.27h1.45M475.05 228.27h1.45M477.95 228.27h2.9M482.3 228.27h4.35M496.8 228.27h1.45M502.6 228.27h1.45M508.4 228.27h1.45M514.2 228.27h1.45M325.7 229.72h46.4M375 229.72h1.45M380.8 229.72h1.45M457.65 229.72h1.45M463.45 229.72h1.45M467.8 229.72h1.45M472.15 229.72h1.45M482.3 229.72h2.9M489.55 229.72h1.45M495.35 229.72h4.35M504.05 229.72h5.8M515.65 229.72h1.45M325.7 231.17h44.95M372.1 231.17h1.45M376.45 231.17h1.45M380.8 231.17h1.45M412.7 231.17h1.45M473.6 231.17h2.9M479.4 231.17h7.25M488.1 231.17h4.35M493.9 231.17h4.35M502.6 231.17h1.45M506.95 231.17h8.7M325.7 232.62h44.95M372.1 232.62h1.45M376.45 232.62h1.45M379.35 232.62h1.45M386.6 232.62h1.45M390.95 232.62h1.45M475.05 232.62h4.35M482.3 232.62h1.45M485.2 232.62h1.45M488.1 232.62h7.25M496.8 232.62h2.9M501.15 232.62h11.6M325.7 234.07h49.3M383.7 234.07h1.45M472.15 234.07h1.45M475.05 234.07h1.45M479.4 234.07h5.8M492.45 234.07h7.25M501.15 234.07h13.05M325.7 235.52h43.5M370.65 235.52h1.45M389.5 235.52h1.45M406.9 235.52h1.45M476.5 235.52h7.25M486.65 235.52h1.45M491 235.52h11.6M505.5 235.52h11.6M325.7 236.97h44.95M377.9 236.97h2.9M389.5 236.97h1.45M462 236.97h1.45M476.5 236.97h1.45M479.4 236.97h23.2M504.05 236.97h13.05M325.7 238.42h46.4M388.05 238.42h1.45M440.25 238.42h1.45M477.95 238.42h1.45M480.85 238.42h4.35M486.65 238.42h7.25M495.35 238.42h5.8M502.6 238.42h14.5M325.7 239.87h50.75M377.9 239.87h1.45M388.05 239.87h1.45M476.5 239.87h2.9M480.85 239.87h5.8M488.1 239.87h1.45M491 239.87h5.8M498.25 239.87h5.8M505.5 239.87h11.6M325.7 241.32h43.5M372.1 241.32h4.35M467.8 241.32h1.45M473.6 241.32h1.45M476.5 241.32h1.45M479.4 241.32h1.45M482.3 241.32h2.9M488.1 241.32h1.45M495.35 241.32h21.75M325.7 242.77h46.4M373.55 242.77h1.45M379.35 242.77h1.45M388.05 242.77h1.45M399.65 242.77h1.45M470.7 242.77h1.45M473.6 242.77h1.45M477.95 242.77h1.45M483.75 242.77h2.9M489.55 242.77h8.7M501.15 242.77h15.95M325.7 244.22h47.85M382.25 244.22h1.45M476.5 244.22h1.45M483.75 244.22h1.45M491 244.22h4.35M496.8 244.22h20.3M325.7 245.67h44.95M372.1 245.67h2.9M379.35 245.67h1.45M382.25 245.67h1.45M390.95 245.67h1.45M467.8 245.67h1.45M483.75 245.67h1.45M489.55 245.67h1.45M493.9 245.67h2.9M501.15 245.67h14.5M325.7 247.12h49.3M389.5 247.12h1.45M402.55 247.12h1.45M488.1 247.12h4.35M493.9 247.12h4.35M501.15 247.12h1.45M504.05 247.12h13.05M325.7 248.57h49.3M380.8 248.57h2.9M495.35 248.57h1.45M501.15 248.57h1.45M504.05 248.57h13.05M325.7 250.02h44.95M373.55 250.02h1.45M390.95 250.02h1.45M473.6 250.02h1.45M492.45 250.02h2.9M504.05 250.02h8.7M325.7 251.47h47.85M376.45 251.47h1.45M390.95 251.47h1.45M491 251.47h1.45M496.8 251.47h1.45M502.6 251.47h2.9M506.95 251.47h8.7M325.7 252.92h52.2M382.25 252.92h1.45M505.5 252.92h8.7M325.7 254.37h43.5M373.55 254.37h1.45M504.05 254.37h1.45M509.85 254.37h4.35M325.7 255.82h43.5M376.45 255.82h1.45M379.35 255.82h1.45M495.35 255.82h1.45M504.05 255.82h1.45M508.4 255.82h5.8M325.7 257.27h42.05M369.2 257.27h1.45M372.1 257.27h4.35M504.05 257.27h1.45M506.95 257.27h2.9M511.3 257.27h1.45M325.7 258.72h42.05M370.65 258.72h1.45M498.25 258.72h1.45M504.05 258.72h1.45M506.95 258.72h4.35M512.75 258.72h2.9M325.7 260.17h39.15M366.3 260.17h1.45M370.65 260.17h2.9M377.9 260.17h1.45M393.85 260.17h1.45M508.4 260.17h5.8M325.7 261.62h39.15M366.3 261.62h1.45M369.2 261.62h4.35M376.45 261.62h1.45M504.05 261.62h1.45M325.7 263.07h37.7M364.85 263.07h2.9M370.65 263.07h1.45M380.8 263.07h1.45M389.5 263.07h1.45M508.4 263.07h4.35M325.7 264.52h44.95M325.7 265.97h39.15M366.3 265.97h2.9M512.75 265.97h1.45M325.7 267.42h40.6M370.65 267.42h1.45M505.5 267.42h1.45M508.4 267.42h1.45M325.7 268.87h37.7M366.3 268.87h1.45M369.2 268.87h5.8M377.9 268.87h1.45M385.15 268.87h1.45M508.4 268.87h1.45M325.7 270.32h39.15M366.3 270.32h1.45M370.65 270.32h1.45M373.55 270.32h1.45M506.95 270.32h1.45M511.3 270.32h1.45M325.7 271.77h40.6M369.2 271.77h2.9M379.35 271.77h1.45M393.85 271.77h1.45M506.95 271.77h2.9M512.75 271.77h1.45M325.7 273.22h40.6M367.75 273.22h1.45M370.65 273.22h1.45M373.55 273.22h7.25M388.05 273.22h1.45M390.95 273.22h1.45M395.3 273.22h1.45M405.45 273.22h1.45M506.95 273.22h1.45M509.85 273.22h1.45M325.7 274.67h39.15M366.3 274.67h4.35M372.1 274.67h1.45M508.4 274.67h1.45M325.7 276.12h42.05M370.65 276.12h2.9M376.45 276.12h1.45M386.6 276.12h1.45M506.95 276.12h8.7M325.7 277.57h46.4M373.55 277.57h4.35M386.6 277.57h1.45M505.5 277.57h1.45M325.7 279.02h47.85M377.9 279.02h1.45M380.8 279.02h2.9M385.15 279.02h1.45M504.05 279.02h4.35M509.85 279.02h2.9M514.2 279.02h1.45M325.7 280.47h47.85M375 280.47h2.9M386.6 280.47h2.9M509.85 280.47h1.45M325.7 281.92h50.75M380.8 281.92h2.9M511.3 281.92h1.45M325.7 283.37h49.3M390.95 283.37h1.45M393.85 283.37h1.45M508.4 283.37h1.45M325.7 284.82h52.2M383.7 284.82h1.45M386.6 284.82h1.45M389.5 284.82h1.45M506.95 284.82h1.45M325.7 286.27h52.2M390.95 286.27h1.45M398.2 286.27h1.45M506.95 286.27h1.45M509.85 286.27h1.45M325.7 287.72h52.2M379.35 287.72h1.45M382.25 287.72h1.45M386.6 287.72h1.45M508.4 287.72h4.35M325.7 289.17h53.65M380.8 289.17h2.9M388.05 289.17h1.45M395.3 289.17h1.45M438.8 289.17h1.45M508.4 289.17h1.45M325.7 290.62h53.65M388.05 290.62h4.35M404 290.62h1.45M509.85 290.62h2.9M325.7 292.07h55.1M382.25 292.07h2.9M389.5 292.07h1.45M508.4 292.07h1.45M325.7 293.52h53.65M382.25 293.52h2.9M392.4 293.52h1.45M504.05 293.52h1.45M325.7 294.97h56.55M383.7 294.97h2.9M392.4 294.97h1.45M395.3 294.97h1.45M405.45 294.97h1.45M508.4 294.97h4.35M325.7 296.42h53.65M380.8 296.42h1.45M402.55 296.42h1.45M508.4 296.42h1.45M325.7 297.87h56.55M385.15 297.87h1.45M506.95 297.87h1.45M325.7 299.32h52.2M379.35 299.32h2.9M383.7 299.32h2.9M506.95 299.32h1.45M325.7 300.77h56.55M385.15 300.77h1.45M390.95 300.77h1.45M434.45 300.77h1.45M506.95 300.77h2.9M511.3 300.77h1.45M325.7 302.22h55.1M382.25 302.22h2.9M386.6 302.22h1.45M392.4 302.22h1.45M508.4 302.22h4.35M325.7 303.67h55.1M382.25 303.67h2.9M437.35 303.67h1.45M509.85 303.67h2.9M514.2 303.67h1.45M325.7 305.12h58M386.6 305.12h1.45M506.95 305.12h1.45M325.7 306.57h53.65M380.8 306.57h2.9M392.4 306.57h1.45M412.7 306.57h1.45M509.85 306.57h1.45M325.7 308.02h53.65M380.8 308.02h1.45M389.5 308.02h1.45M392.4 308.02h1.45M509.85 308.02h1.45M325.7 309.47h53.65M380.8 309.47h1.45M389.5 309.47h1.45M392.4 309.47h1.45M404 309.47h1.45M506.95 309.47h1.45M509.85 309.47h1.45M325.7 310.92h53.65M392.4 310.92h1.45M404 310.92h2.9M509.85 310.92h1.45M512.75 310.92h1.45M325.7 312.37h52.2M379.35 312.37h1.45M382.25 312.37h1.45M386.6 312.37h1.45M395.3 312.37h1.45M472.15 312.37h1.45M505.5 312.37h2.9M325.7 313.82h53.65M382.25 313.82h2.9M408.35 313.82h1.45M506.95 313.82h5.8M325.7 315.27h52.2M379.35 315.27h7.25M393.85 315.27h1.45M409.8 315.27h1.45M325.7 316.72h50.75M377.9 316.72h4.35M386.6 316.72h1.45M390.95 316.72h1.45M411.25 316.72h1.45M508.4 316.72h4.35M325.7 318.17h53.65M385.15 318.17h1.45M389.5 318.17h1.45M506.95 318.17h2.9M325.7 319.62h52.2M385.15 319.62h2.9M508.4 319.62h1.45M325.7 321.07h52.2M379.35 321.07h1.45M383.7 321.07h1.45M506.95 321.07h1.45M325.7 322.52h50.75M380.8 322.52h2.9M502.6 322.52h1.45M509.85 322.52h1.45M325.7 323.97h50.75M377.9 323.97h2.9M385.15 323.97h1.45M438.8 323.97h1.45M509.85 323.97h1.45" stroke="#000" stroke-width="1.45" fill="none"/>
<path d="M343.1 228.27h10.15M367.75 228.27h1.45M327.15 229.72h10.15M341.65 229.72h11.6M364.85 229.72h4.35M327.15 231.17h42.05M327.15 232.62h42.05M508.4 232.62h2.9M327.15 234.07h40.6M506.95 234.07h4.35M327.15 235.52h40.6M480.85 235.52h1.45M493.9 235.52h4.35M506.95 235.52h5.8M327.15 236.97h40.6M496.8 236.97h2.9M506.95 236.97h8.7M327.15 238.42h42.05M482.3 238.42h1.45M506.95 238.42h8.7M327.15 239.87h40.6M506.95 239.87h8.7M327.15 241.32h40.6M506.95 241.32h8.7M327.15 242.77h40.6M502.6 242.77h13.05M327.15 244.22h42.05M502.6 244.22h11.6M327.15 245.67h42.05M505.5 245.67h8.7M327.15 247.12h42.05M505.5 247.12h8.7M327.15 248.57h42.05M505.5 248.57h5.8M327.15 250.02h42.05M508.4 250.02h2.9M327.15 251.47h42.05M508.4 251.47h2.9M327.15 252.92h40.6M511.3 252.92h1.45M327.15 254.37h40.6M511.3 254.37h1.45M327.15 255.82h39.15M327.15 257.27h39.15M327.15 258.72h36.25M327.15 260.17h36.25M327.15 261.62h34.8M327.15 263.07h34.8M327.15 264.52h34.8M327.15 265.97h36.25M327.15 267.42h34.8M327.15 268.87h34.8M327.15 270.32h34.8M327.15 271.77h36.25M327.15 273.22h36.25M327.15 274.67h36.25M327.15 276.12h36.25M327.15 277.57h39.15M327.15 279.02h43.5M327.15 280.47h44.95M327.15 281.92h44.95M327.15 283.37h46.4M327.15 284.82h46.4M327.15 286.27h49.3M327.15 287.72h49.3M327.15 289.17h49.3M327.15 290.62h50.75M327.15 292.07h50.75M327.15 293.52h50.75M327.15 294.97h50.75M327.15 296.42h50.75M327.15 297.87h49.3M327.15 299.32h49.3M327.15 300.77h49.3M327.15 302.22h52.2M327.15 303.67h52.2M327.15 305.12h50.75M327.15 306.57h50.75M327.15 308.02h50.75M327.15 309.47h50.75M327.15 310.92h49.3M327.15 312.37h49.3M327.15 313.82h49.3M327.15 315.27h47.85M327.15 316.72h47.85M327.15 318.17h47.85M327.15 319.62h49.3M327.15 321.07h47.85M327.15 322.52h47.85" stroke="#000" stroke-width="2.05" fill="none"/>
<path d="M400.6 220.5H515.8V263.7H400.6ZM418.5 220.5V263.7M432.7 220.5V263.7M448.1 220.5V263.7M462.2 220.5V263.7M476.2 220.5V263.7M489.2 220.5V263.7M502.9 220.5V263.7M400.6 217.0V211.4H475.4V217.0M502.3 217.0V211.4H515.8V217.0" stroke="#000" stroke-width="1.25" fill="none"/>
<path d="M324.5 193.3H517.7V325.0H324.5" fill="none" stroke="#000" stroke-width="1.35"/>
<path d="M324.5 192.7V325.6" fill="none" stroke="#000" stroke-width="1.7"/>
<path d="M319.1 324.7H324.5M321.3 314.9H324.5M321.3 309.1H324.5M321.3 305.1H324.5M321.3 301.9H324.5M321.3 299.3H324.5M321.3 297.1H324.5M321.3 295.2H324.5M321.3 293.6H324.5M319.1 292.1H324.5M321.3 282.3H324.5M321.3 276.5H324.5M321.3 272.4H324.5M321.3 269.3H324.5M321.3 266.7H324.5M321.3 264.5H324.5M321.3 262.6H324.5M321.3 260.9H324.5M319.1 259.4H324.5M321.3 249.6H324.5M321.3 243.9H324.5M321.3 239.8H324.5M321.3 236.6H324.5M321.3 234.1H324.5M321.3 231.9H324.5M321.3 230.0H324.5M321.3 228.3H324.5M319.1 226.8H324.5M321.3 217.0H324.5M321.3 211.3H324.5M321.3 207.2H324.5M321.3 204.0H324.5M321.3 201.4H324.5M321.3 199.3H324.5M321.3 197.4H324.5M321.3 195.7H324.5M319.1 194.2H324.5M325.1 325.0V330.2M339.5 325.0V327.6M347.9 325.0V327.6M353.9 325.0V327.6M358.5 325.0V327.6M362.3 325.0V327.6M365.5 325.0V327.6M368.3 325.0V327.6M370.7 325.0V327.6M372.9 325.0V330.2M387.3 325.0V327.6M395.7 325.0V327.6M401.7 325.0V327.6M406.4 325.0V327.6M410.1 325.0V327.6M413.3 325.0V327.6M416.1 325.0V327.6M418.6 325.0V327.6M420.8 325.0V330.2M435.1 325.0V327.6M443.6 325.0V327.6M449.5 325.0V327.6M454.2 325.0V327.6M458.0 325.0V327.6M461.2 325.0V327.6M463.9 325.0V327.6M466.4 325.0V327.6M468.6 325.0V330.2M483.0 325.0V327.6M491.4 325.0V327.6M497.4 325.0V327.6M502.0 325.0V327.6M505.8 325.0V327.6M509.0 325.0V327.6M511.8 325.0V327.6M514.2 325.0V327.6M516.4 325.0V330.2" stroke="#000" stroke-width="1.05" fill="none"/>
<path d="M437.8 365.82h1.45M398.65 367.27h1.45M510.3 373.07h1.45M424.75 374.52h1.45M345 375.97h1.45M329.05 377.42h1.45M360.95 377.42h1.45M508.85 377.42h1.45M342.1 378.87h1.45M450.85 378.87h1.45M455.2 378.87h1.45M471.15 378.87h1.45M327.6 380.32h1.45M333.4 380.32h1.45M346.45 380.32h1.45M368.2 380.32h1.45M466.8 380.32h1.45M469.7 380.32h1.45M472.6 380.32h2.9M492.9 380.32h1.45M327.6 381.77h2.9M352.25 381.77h1.45M358.05 381.77h1.45M436.35 381.77h1.45M442.15 381.77h1.45M465.35 381.77h1.45M500.15 381.77h1.45M510.3 381.77h1.45M326.15 383.22h1.45M331.95 383.22h1.45M336.3 383.22h1.45M340.65 383.22h2.9M353.7 383.22h1.45M389.95 383.22h1.45M437.8 383.22h1.45M458.1 383.22h2.9M465.35 383.22h2.9M469.7 383.22h1.45M482.75 383.22h1.45M488.55 383.22h1.45M507.4 383.22h1.45M513.2 383.22h1.45M324.7 384.67h2.9M330.5 384.67h4.35M336.3 384.67h11.6M352.25 384.67h1.45M355.15 384.67h1.45M358.05 384.67h4.35M366.75 384.67h2.9M372.55 384.67h1.45M452.3 384.67h1.45M461 384.67h7.25M471.15 384.67h2.9M475.5 384.67h2.9M482.75 384.67h1.45M488.55 384.67h1.45M508.85 384.67h1.45M511.75 384.67h1.45M514.65 384.67h1.45M324.7 386.12h8.7M334.85 386.12h2.9M339.2 386.12h10.15M352.25 386.12h10.15M363.85 386.12h1.45M368.2 386.12h4.35M447.95 386.12h1.45M455.2 386.12h2.9M459.55 386.12h4.35M465.35 386.12h7.25M475.5 386.12h1.45M478.4 386.12h2.9M485.65 386.12h1.45M491.45 386.12h1.45M501.6 386.12h1.45M507.4 386.12h8.7M324.7 387.57h21.75M347.9 387.57h20.3M369.65 387.57h4.35M376.9 387.57h1.45M391.4 387.57h1.45M446.5 387.57h1.45M450.85 387.57h1.45M455.2 387.57h5.8M462.45 387.57h13.05M476.95 387.57h7.25M485.65 387.57h1.45M495.8 387.57h1.45M501.6 387.57h1.45M505.95 387.57h4.35M511.75 387.57h2.9M324.7 389.02h47.85M387.05 389.02h1.45M445.05 389.02h5.8M453.75 389.02h5.8M461 389.02h11.6M478.4 389.02h1.45M484.2 389.02h4.35M495.8 389.02h1.45M504.5 389.02h1.45M508.85 389.02h5.8M324.7 390.47h44.95M387.05 390.47h2.9M436.35 390.47h1.45M449.4 390.47h1.45M455.2 390.47h1.45M458.1 390.47h15.95M475.5 390.47h8.7M487.1 390.47h2.9M492.9 390.47h1.45M495.8 390.47h5.8M503.05 390.47h1.45M505.95 390.47h4.35M511.75 390.47h4.35M324.7 391.92h47.85M421.85 391.92h1.45M450.85 391.92h5.8M458.1 391.92h30.45M490 391.92h5.8M500.15 391.92h4.35M505.95 391.92h5.8M513.2 391.92h1.45M324.7 393.37h50.75M442.15 393.37h1.45M446.5 393.37h1.45M449.4 393.37h1.45M452.3 393.37h1.45M455.2 393.37h1.45M458.1 393.37h14.5M475.5 393.37h5.8M484.2 393.37h10.15M495.8 393.37h7.25M504.5 393.37h11.6M324.7 394.82h44.95M371.1 394.82h2.9M376.9 394.82h1.45M413.15 394.82h1.45M449.4 394.82h1.45M453.75 394.82h40.6M495.8 394.82h1.45M498.7 394.82h1.45M501.6 394.82h14.5M324.7 396.27h43.5M371.1 396.27h1.45M375.45 396.27h1.45M447.95 396.27h1.45M456.65 396.27h1.45M459.55 396.27h26.1M488.55 396.27h1.45M492.9 396.27h7.25M504.5 396.27h11.6M324.7 397.72h47.85M374 397.72h1.45M381.25 397.72h2.9M387.05 397.72h1.45M442.15 397.72h1.45M445.05 397.72h1.45M452.3 397.72h7.25M461 397.72h21.75M484.2 397.72h8.7M494.35 397.72h21.75M324.7 399.17h44.95M371.1 399.17h1.45M374 399.17h5.8M450.85 399.17h7.25M459.55 399.17h5.8M466.8 399.17h17.4M487.1 399.17h7.25M495.8 399.17h2.9M500.15 399.17h1.45M503.05 399.17h13.05M324.7 400.62h46.4M375.45 400.62h1.45M378.35 400.62h1.45M381.25 400.62h1.45M429.1 400.62h1.45M456.65 400.62h1.45M462.45 400.62h2.9M466.8 400.62h5.8M474.05 400.62h1.45M478.4 400.62h7.25M488.55 400.62h2.9M494.35 400.62h2.9M498.7 400.62h17.4M324.7 402.07h42.05M368.2 402.07h2.9M372.55 402.07h1.45M375.45 402.07h1.45M384.15 402.07h1.45M458.1 402.07h1.45M462.45 402.07h1.45M468.25 402.07h1.45M471.15 402.07h1.45M474.05 402.07h2.9M478.4 402.07h5.8M485.65 402.07h1.45M488.55 402.07h1.45M492.9 402.07h1.45M495.8 402.07h1.45M501.6 402.07h14.5M324.7 403.52h44.95M371.1 403.52h2.9M375.45 403.52h2.9M379.8 403.52h1.45M461 403.52h1.45M466.8 403.52h4.35M479.85 403.52h1.45M482.75 403.52h1.45M487.1 403.52h2.9M494.35 403.52h2.9M498.7 403.52h17.4M324.7 404.97h49.3M375.45 404.97h2.9M379.8 404.97h1.45M474.05 404.97h1.45M484.2 404.97h1.45M492.9 404.97h2.9M497.25 404.97h1.45M500.15 404.97h15.95M324.7 406.42h42.05M369.65 406.42h4.35M388.5 406.42h1.45M453.75 406.42h1.45M466.8 406.42h1.45M479.85 406.42h1.45M490 406.42h4.35M497.25 406.42h1.45M500.15 406.42h2.9M504.5 406.42h11.6M324.7 407.87h44.95M371.1 407.87h4.35M378.35 407.87h1.45M465.35 407.87h1.45M469.7 407.87h1.45M482.75 407.87h1.45M504.5 407.87h11.6M324.7 409.32h42.05M369.65 409.32h1.45M372.55 409.32h1.45M379.8 409.32h1.45M500.15 409.32h1.45M503.05 409.32h13.05M324.7 410.77h37.7M363.85 410.77h1.45M372.55 410.77h1.45M388.5 410.77h1.45M446.5 410.77h1.45M501.6 410.77h1.45M504.5 410.77h11.6M324.7 412.22h20.3M346.45 412.22h15.95M363.85 412.22h2.9M369.65 412.22h1.45M503.05 412.22h2.9M507.4 412.22h8.7M324.7 413.67h33.35M359.5 413.67h2.9M365.3 413.67h1.45M501.6 413.67h1.45M504.5 413.67h11.6M324.7 415.12h15.95M342.1 415.12h20.3M365.3 415.12h1.45M368.2 415.12h1.45M375.45 415.12h1.45M503.05 415.12h13.05M324.7 416.57h40.6M368.2 416.57h1.45M378.35 416.57h1.45M504.5 416.57h7.25M513.2 416.57h2.9M324.7 418.02h36.25M363.85 418.02h1.45M368.2 418.02h2.9M501.6 418.02h1.45M504.5 418.02h1.45M507.4 418.02h8.7M324.7 419.47h15.95M342.1 419.47h15.95M359.5 419.47h1.45M362.4 419.47h1.45M368.2 419.47h1.45M411.7 419.47h1.45M500.15 419.47h1.45M504.5 419.47h10.15M324.7 420.92h36.25M363.85 420.92h1.45M381.25 420.92h1.45M504.5 420.92h1.45M507.4 420.92h8.7M324.7 422.37h36.25M363.85 422.37h1.45M366.75 422.37h2.9M501.6 422.37h2.9M505.95 422.37h1.45M508.85 422.37h1.45M324.7 423.82h33.35M359.5 423.82h1.45M363.85 423.82h1.45M368.2 423.82h1.45M452.3 423.82h1.45M503.05 423.82h11.6M324.7 425.27h40.6M366.75 425.27h1.45M391.4 425.27h1.45M432 425.27h1.45M504.5 425.27h1.45M508.85 425.27h4.35M514.65 425.27h1.45M324.7 426.72h40.6M379.8 426.72h1.45M507.4 426.72h1.45M511.75 426.72h1.45M324.7 428.17h44.95M404.45 428.17h1.45M503.05 428.17h10.15M324.7 429.62h37.7M363.85 429.62h4.35M371.1 429.62h1.45M408.8 429.62h1.45M504.5 429.62h1.45M507.4 429.62h1.45M510.3 429.62h1.45M324.7 431.07h40.6M366.75 431.07h1.45M372.55 431.07h2.9M381.25 431.07h1.45M394.3 431.07h1.45M397.2 431.07h1.45M504.5 431.07h5.8M324.7 432.52h40.6M366.75 432.52h1.45M371.1 432.52h4.35M505.95 432.52h2.9M511.75 432.52h1.45M324.7 433.97h40.6M366.75 433.97h1.45M369.65 433.97h1.45M376.9 433.97h2.9M508.85 433.97h4.35M324.7 435.42h44.95M371.1 435.42h1.45M374 435.42h2.9M379.8 435.42h1.45M385.6 435.42h1.45M507.4 435.42h1.45M511.75 435.42h1.45M324.7 436.87h44.95M371.1 436.87h1.45M374 436.87h1.45M376.9 436.87h1.45M379.8 436.87h1.45M461 436.87h1.45M505.95 436.87h1.45M511.75 436.87h1.45M324.7 438.32h43.5M371.1 438.32h7.25M384.15 438.32h1.45M510.3 438.32h1.45M324.7 439.77h46.4M374 439.77h2.9M384.15 439.77h1.45M507.4 439.77h2.9M324.7 441.22h47.85M374 441.22h1.45M378.35 441.22h1.45M394.3 441.22h1.45M508.85 441.22h1.45M324.7 442.67h46.4M372.55 442.67h2.9M378.35 442.67h1.45M384.15 442.67h1.45M388.5 442.67h1.45M394.3 442.67h1.45M510.3 442.67h2.9M324.7 444.12h52.2M378.35 444.12h1.45M394.3 444.12h1.45M505.95 444.12h1.45M508.85 444.12h1.45M324.7 445.57h44.95M371.1 445.57h4.35M378.35 445.57h1.45M381.25 445.57h1.45M418.95 445.57h1.45M507.4 445.57h1.45M511.75 445.57h2.9M324.7 447.02h50.75M376.9 447.02h4.35M384.15 447.02h2.9M403 447.02h1.45M504.5 447.02h1.45M510.3 447.02h2.9M324.7 448.47h52.2M378.35 448.47h2.9M391.4 448.47h1.45M505.95 448.47h1.45M508.85 448.47h1.45M324.7 449.92h53.65M379.8 449.92h1.45M384.15 449.92h2.9M398.65 449.92h1.45M505.95 449.92h1.45M510.3 449.92h1.45M324.7 451.37h55.1M382.7 451.37h1.45M400.1 451.37h1.45M324.7 452.82h53.65M379.8 452.82h1.45M385.6 452.82h2.9M398.65 452.82h1.45M504.5 452.82h1.45M507.4 452.82h2.9M324.7 454.27h52.2M378.35 454.27h2.9M387.05 454.27h1.45M511.75 454.27h2.9M324.7 455.72h15.95M342.1 455.72h36.25M379.8 455.72h4.35M385.6 455.72h2.9M413.15 455.72h1.45M421.85 455.72h1.45M507.4 455.72h1.45M324.7 457.17h52.2M379.8 457.17h1.45M389.95 457.17h1.45M507.4 457.17h1.45M510.3 457.17h1.45M324.7 458.62h53.65M381.25 458.62h1.45M387.05 458.62h1.45M389.95 458.62h1.45M392.85 458.62h1.45M405.9 458.62h1.45M511.75 458.62h1.45M324.7 460.07h58M391.4 460.07h2.9M324.7 461.52h53.65M379.8 461.52h1.45M385.6 461.52h1.45M388.5 461.52h1.45M391.4 461.52h1.45M508.85 461.52h2.9M324.7 462.97h55.1M382.7 462.97h5.8M389.95 462.97h1.45M392.85 462.97h1.45M504.5 462.97h1.45M513.2 462.97h1.45M324.7 464.42h53.65M381.25 464.42h4.35M408.8 464.42h1.45M508.85 464.42h1.45M324.7 465.87h55.1M385.6 465.87h1.45M400.1 465.87h1.45M436.35 465.87h1.45M504.5 465.87h1.45M507.4 465.87h1.45M324.7 467.32h50.75M376.9 467.32h2.9M381.25 467.32h1.45M505.95 467.32h1.45M508.85 467.32h2.9M324.7 468.77h55.1M381.25 468.77h2.9M387.05 468.77h1.45M400.1 468.77h1.45M507.4 468.77h4.35M324.7 470.22h55.1M384.15 470.22h1.45M387.05 470.22h2.9M392.85 470.22h1.45M508.85 470.22h2.9M324.7 471.67h53.65M379.8 471.67h2.9M385.6 471.67h1.45M420.4 471.67h1.45M507.4 471.67h4.35M324.7 473.12h4.35M330.5 473.12h49.3M389.95 473.12h1.45M407.35 473.12h1.45M324.7 474.57h56.55M385.6 474.57h1.45M389.95 474.57h1.45M405.9 474.57h1.45M324.7 476.02h52.2M378.35 476.02h2.9M382.7 476.02h1.45M389.95 476.02h1.45M400.1 476.02h1.45M510.3 476.02h4.35M324.7 477.47h50.75M378.35 477.47h2.9M387.05 477.47h1.45M392.85 477.47h1.45M507.4 477.47h1.45M324.7 478.92h50.75M381.25 478.92h1.45M392.85 478.92h2.9M410.25 478.92h1.45M505.95 478.92h1.45M508.85 478.92h1.45M324.7 480.37h53.65M379.8 480.37h4.35M385.6 480.37h1.45M392.85 480.37h1.45M507.4 480.37h2.9M324.7 481.82h53.65M379.8 481.82h1.45M394.3 481.82h1.45M413.15 481.82h1.45M504.5 481.82h1.45M510.3 481.82h1.45M513.2 481.82h1.45M324.7 483.27h55.1M381.25 483.27h1.45M385.6 483.27h1.45M418.95 483.27h1.45M511.75 483.27h1.45" stroke="#000" stroke-width="1.45" fill="none"/>
<path d="M340.65 386.12h4.35M359.5 386.12h1.45M326.15 387.57h5.8M340.65 387.57h4.35M353.7 387.57h7.25M466.8 387.57h4.35M326.15 389.02h18.85M349.35 389.02h17.4M463.9 389.02h7.25M326.15 390.47h42.05M462.45 390.47h8.7M326.15 391.92h42.05M459.55 391.92h11.6M476.95 391.92h2.9M507.4 391.92h1.45M326.15 393.37h42.05M459.55 393.37h11.6M476.95 393.37h2.9M485.65 393.37h1.45M491.45 393.37h1.45M507.4 393.37h2.9M326.15 394.82h40.6M461 394.82h10.15M476.95 394.82h2.9M505.95 394.82h8.7M326.15 396.27h40.6M462.45 396.27h18.85M505.95 396.27h8.7M326.15 397.72h40.6M462.45 397.72h1.45M468.25 397.72h13.05M505.95 397.72h8.7M326.15 399.17h42.05M468.25 399.17h2.9M479.85 399.17h1.45M504.5 399.17h10.15M326.15 400.62h39.15M479.85 400.62h2.9M504.5 400.62h10.15M326.15 402.07h39.15M503.05 402.07h11.6M326.15 403.52h39.15M503.05 403.52h11.6M326.15 404.97h39.15M505.95 404.97h8.7M326.15 406.42h39.15M505.95 406.42h8.7M326.15 407.87h39.15M505.95 407.87h8.7M326.15 409.32h34.8M505.95 409.32h8.7M326.15 410.77h17.4M347.9 410.77h13.05M508.85 410.77h5.8M326.15 412.22h17.4M347.9 412.22h8.7M508.85 412.22h5.8M326.15 413.67h13.05M347.9 413.67h8.7M508.85 413.67h5.8M326.15 415.12h13.05M343.55 415.12h13.05M505.95 415.12h4.35M326.15 416.57h13.05M343.55 416.57h15.95M508.85 416.57h1.45M326.15 418.02h13.05M343.55 418.02h13.05M508.85 418.02h1.45M326.15 419.47h13.05M343.55 419.47h13.05M508.85 419.47h4.35M326.15 420.92h13.05M343.55 420.92h13.05M326.15 422.37h30.45M326.15 423.82h30.45M326.15 425.27h30.45M326.15 426.72h37.7M326.15 428.17h34.8M326.15 429.62h34.8M326.15 431.07h34.8M326.15 432.52h37.7M326.15 433.97h37.7M326.15 435.42h37.7M326.15 436.87h40.6M326.15 438.32h40.6M326.15 439.77h40.6M326.15 441.22h43.5M326.15 442.67h43.5M326.15 444.12h42.05M326.15 445.57h42.05M372.55 445.57h1.45M326.15 447.02h42.05M372.55 447.02h1.45M326.15 448.47h47.85M326.15 449.92h49.3M326.15 451.37h50.75M326.15 452.82h49.3M326.15 454.27h13.05M343.55 454.27h31.9M326.15 455.72h13.05M343.55 455.72h31.9M326.15 457.17h13.05M343.55 457.17h31.9M326.15 458.62h49.3M326.15 460.07h50.75M326.15 461.52h50.75M326.15 462.97h50.75M326.15 464.42h50.75M326.15 465.87h47.85M326.15 467.32h47.85M326.15 468.77h47.85M326.15 470.22h50.75M326.15 471.67h1.45M331.95 471.67h44.95M326.15 473.12h1.45M331.95 473.12h44.95M326.15 474.57h1.45M331.95 474.57h43.5M326.15 476.02h47.85M326.15 477.47h47.85M326.15 478.92h47.85M326.15 480.37h47.85M326.15 481.82h50.75" stroke="#000" stroke-width="2.05" fill="none"/>
<path d="M400.6 378.0H515.8V421.3H400.6ZM418.5 378.0V421.3M432.7 378.0V421.3M448.1 378.0V421.3M462.2 378.0V421.3M476.2 378.0V421.3M489.2 378.0V421.3M502.9 378.0V421.3M400.6 375.6V370.0H475.4V375.6M502.3 375.6V370.0H515.8V375.6" stroke="#000" stroke-width="1.25" fill="none"/>
<path d="M323.5 352.6H517.7V484.0H323.5" fill="none" stroke="#000" stroke-width="1.35"/>
<path d="M323.5 352.0V484.6" fill="none" stroke="#000" stroke-width="1.7"/>
<path d="M318.1 483.7H323.5M320.3 473.9H323.5M320.3 468.2H323.5M320.3 464.1H323.5M320.3 460.9H323.5M320.3 458.4H323.5M320.3 456.2H323.5M320.3 454.3H323.5M320.3 452.6H323.5M318.1 451.1H323.5M320.3 441.4H323.5M320.3 435.6H323.5M320.3 431.6H323.5M320.3 428.4H323.5M320.3 425.8H323.5M320.3 423.6H323.5M320.3 421.8H323.5M320.3 420.1H323.5M318.1 418.6H323.5M320.3 408.8H323.5M320.3 403.1H323.5M320.3 399.0H323.5M320.3 395.8H323.5M320.3 393.3H323.5M320.3 391.1H323.5M320.3 389.2H323.5M320.3 387.5H323.5M318.1 386.1H323.5M320.3 376.3H323.5M320.3 370.5H323.5M320.3 366.5H323.5M320.3 363.3H323.5M320.3 360.7H323.5M320.3 358.5H323.5M320.3 356.7H323.5M320.3 355.0H323.5M318.1 353.5H323.5M324.1 484.0V489.2M338.6 484.0V486.6M347.0 484.0V486.6M353.0 484.0V486.6M357.7 484.0V486.6M361.5 484.0V486.6M364.7 484.0V486.6M367.5 484.0V486.6M370.0 484.0V486.6M372.2 484.0V489.2M386.6 484.0V486.6M395.1 484.0V486.6M401.1 484.0V486.6M405.8 484.0V486.6M409.6 484.0V486.6M412.8 484.0V486.6M415.6 484.0V486.6M418.1 484.0V486.6M420.3 484.0V489.2M434.7 484.0V486.6M443.2 484.0V486.6M449.2 484.0V486.6M453.9 484.0V486.6M457.7 484.0V486.6M460.9 484.0V486.6M463.7 484.0V486.6M466.1 484.0V486.6M468.3 484.0V489.2M482.8 484.0V486.6M491.3 484.0V486.6M497.3 484.0V486.6M501.9 484.0V486.6M505.7 484.0V486.6M509.0 484.0V486.6M511.7 484.0V486.6M514.2 484.0V486.6M516.4 484.0V489.2" stroke="#000" stroke-width="1.05" fill="none"/>
<path d="M311.6 52V476.5" stroke="#000" stroke-width="1.5" fill="none"/>
<path d="M311.5 37.2L317 53.6H306Z" fill="#000"/>
<path d="M330 492.2H507" stroke="#000" stroke-width="1.5" fill="none"/>
<path d="M521.5 492.1L504.6 486.6V497.7Z" fill="#000"/>
<text transform="translate(429.39,47) scale(1.036,1)" font-size="13" stroke-width="0.29">85</text>
<text transform="translate(503.89,47) scale(1.211,1)" font-size="13" stroke-width="0.29">8</text>
<text transform="translate(433.5,209.4) scale(1.142,1)" font-size="13" stroke-width="0.29">4</text>
<text transform="translate(499.29,209.4) scale(1.094,1)" font-size="13" stroke-width="0.29">66</text>
<text transform="translate(429.82,368.2) scale(1.046,1)" font-size="13" stroke-width="0.29">24</text>
<text transform="translate(499.46,368.2) scale(1.041,1)" font-size="13" stroke-width="0.29">37</text>
<text transform="translate(294.3,286.69) rotate(-90) scale(0.999,1.05)" font-size="16.2" stroke-width="0.36">KJ1.26</text>
<text transform="translate(399.2,518) scale(1.039,1)" font-size="15.4" stroke-width="0.34">CFSE</text>
<text transform="translate(455.05,147.3) scale(1.022,1)" font-size="19" stroke-width="0.42">PBS</text>
<text transform="translate(410.43,303.4) scale(1.087,1)" font-size="20.09" stroke-width="0.44" style="font-family:'Liberation Serif',serif">α</text>
<text transform="translate(420.95,309.43) scale(1.054,1)" font-size="15.6" stroke-width="0.34">E</text>
<text transform="translate(434.22,297.96) scale(0.680,1)" font-size="18.54" stroke-width="0.41">-</text>
<text transform="translate(437.95,303.4) scale(1.040,1)" font-size="17.92" stroke-width="0.39">CD25</text>
<text transform="translate(484.85,298.17) scale(0.970,1)" font-size="15.76" stroke-width="0.35">+</text>
<text transform="translate(463.69,457.2) scale(1.007,1)" font-size="20.09" stroke-width="0.44" style="font-family:'Liberation Serif',serif">α</text>
<text transform="translate(473.76,463.5) scale(1.152,1)" font-size="15.6" stroke-width="0.34">E</text>
<text transform="translate(485.53,452.28) scale(0.981,1)" font-size="15.76" stroke-width="0.35">+</text>
</g>
</svg></body></html>
